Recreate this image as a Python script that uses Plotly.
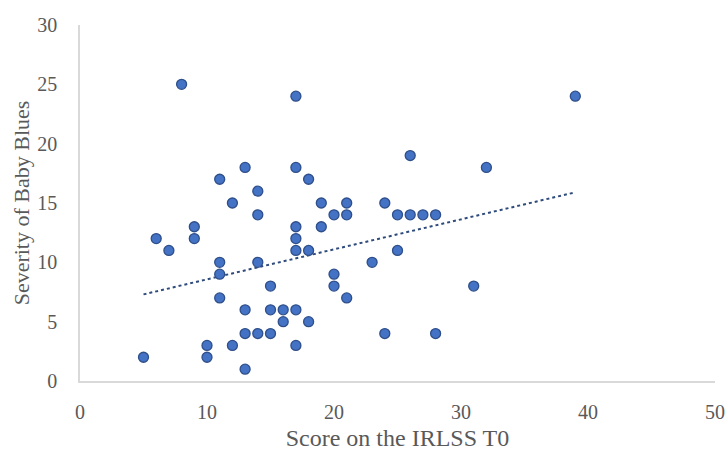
import plotly.graph_objects as go

x_vals = [5, 6, 7, 8, 9, 9, 10, 10, 11, 11, 11, 11, 12, 12, 13, 13, 13, 13,
          14, 14, 14, 14, 15, 15, 15, 16, 16, 17, 17, 17, 17, 17, 17, 17,
          18, 18, 18, 19, 19, 20, 20, 20, 21, 21, 21, 23, 24, 24, 25, 25,
          26, 26, 27, 28, 28, 31, 32, 39]
y_vals = [2, 12, 11, 25, 13, 12, 3, 2, 17, 10, 9, 7, 15, 3, 18, 6, 4, 1,
          16, 14, 10, 4, 8, 6, 4, 6, 5, 24, 18, 13, 12, 11, 6, 3,
          17, 11, 5, 15, 13, 14, 9, 8, 15, 14, 7, 10, 15, 4, 14, 11,
          19, 14, 14, 14, 4, 8, 18, 24]
trend_x = [5, 39]
trend_y = [7.3, 15.9]
x_ticks = [0, 10, 20, 30, 40, 50]
y_ticks = [0, 5, 10, 15, 20, 25, 30]

fig = go.Figure()
fig.add_trace(go.Scatter(
    x=trend_x, y=trend_y, mode="lines",
    line=dict(color="#2F4B7C", width=2, dash="dot"),
    showlegend=False,
))
fig.add_trace(go.Scatter(
    x=x_vals, y=y_vals, mode="markers",
    marker=dict(size=10, color="#4472C4", line=dict(color="#2F4F8A", width=1.3)),
    showlegend=False,
))

font_family = "Liberation Serif, Times New Roman, serif"
fig.update_layout(
    width=727, height=451,
    margin=dict(l=80, r=12, t=25, b=70),
    paper_bgcolor="white", plot_bgcolor="white",
    font=dict(family=font_family, color="#595959", size=20),
    xaxis=dict(
        range=[0, 50], tickvals=x_ticks, showgrid=False, zeroline=False,
        showline=True, linecolor="#D9D9D9", linewidth=1.5, ticks="",
        automargin=False, ticklabelstandoff=12,
        tickfont=dict(size=20, color="#595959"),
        title=dict(text="Score on the IRLSS T0", font=dict(size=24, color="#595959"), standoff=10),
    ),
    yaxis=dict(
        range=[0, 30], tickvals=y_ticks, showgrid=False, zeroline=False,
        showline=True, linecolor="#D9D9D9", linewidth=1.5, ticks="",
        automargin=False, ticklabelstandoff=17,
        tickfont=dict(size=20, color="#595959"),
        title=dict(text="Severity of Baby Blues", font=dict(size=22, color="#595959"), standoff=2),
    ),
)
fig.write_html("out.html", config={"displayModeBar": False},
               post_script="document.body.style.margin='0';document.body.style.overflow='hidden';")
